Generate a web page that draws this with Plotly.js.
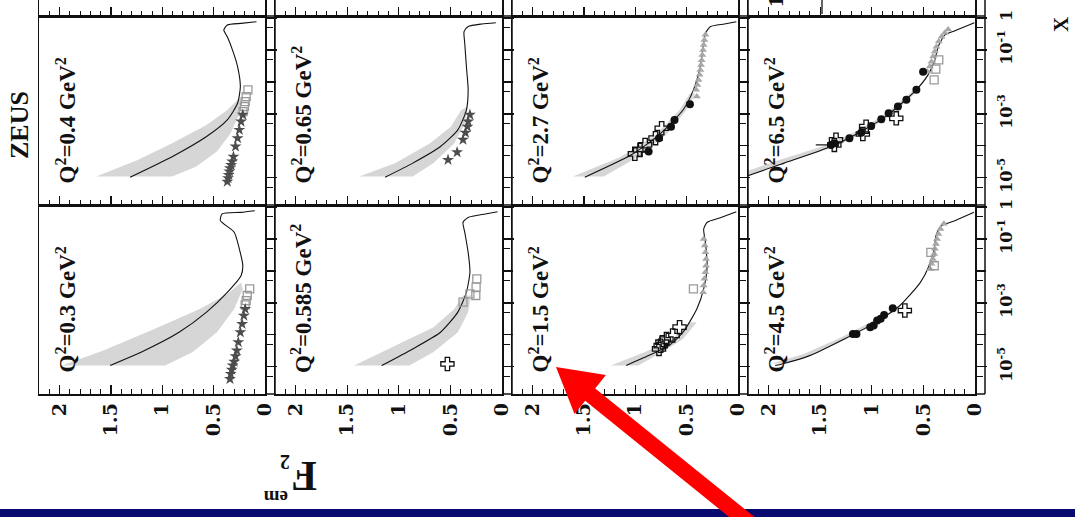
<!DOCTYPE html>
<html>
<head>
<meta charset="utf-8">
<script src="https://cdn.plot.ly/plotly-3.0.1.min.js"></script>
<style>html,body{margin:0;padding:0;background:#fff}#chart{width:1075px;height:517px}</style>
</head>
<body>
<div id="chart"></div>
<script>
// ---------------- DATA (pairs are [F2_em, log10(x)]) ----------------
const Q2_VALUES = ['0.4', '0.65', '2.7', '6.5', '0.3', '0.585', '1.5', '4.5'];
const F2_TICKS = [0, 0.5, 1, 1.5, 2];
const F2_TICK_TEXT = ['0', '0.5', '1', '1.5', '2'];
const X_LABELLED_TICKS = [1, 0.1, 0.001, 1e-5];
const X_LABELLED_TEXT = ['1', '10<sup>-1</sup>', '10<sup>-3</sup>', '10<sup>-5</sup>'];
const X_PLAIN_TICKS = [0.01, 1e-4];
const X_MINOR_TICKS = [0.5, 0.05, 0.005, 5e-4, 5e-5, 5e-6];

// Q2 = 0.4
const CURVE_Q0_4 = [[1.313,-4.98],[0.904,-4.34],[0.569,-3.71],[0.367,-3.19],[0.267,-2.67],[0.240,-2.15],[0.267,-1.52],[0.317,-1.00],[0.367,-0.59],[0.401,-0.38],[0.367,-0.22],[0.233,-0.17],[0.083,-0.12]];
const BAND_HI_Q0_4 = [[1.642,-4.96],[1.239,-4.44],[0.904,-3.92],[0.569,-3.35],[0.367,-2.88],[0.250,-2.51]];
const BAND_LO_Q0_4 = [[0.904,-4.96],[0.669,-4.65],[0.468,-4.18],[0.334,-3.61],[0.250,-2.98],[0.233,-2.57]];
const STARS_Q0_4 = [[0.367,-5.12],[0.360,-5.01],[0.354,-4.91],[0.347,-4.80],[0.341,-4.70],[0.330,-4.60],[0.320,-4.49],[0.307,-4.34],[0.287,-4.02],[0.267,-3.76],[0.250,-3.50],[0.233,-3.24],[0.216,-3.03]];
const SQUARES_Q0_4 = [[0.166,-2.25],[0.183,-2.46],[0.193,-2.62],[0.200,-2.77],[0.213,-2.93]];

// Q2 = 0.65
const CURVE_Q0_65 = [[1.133,-4.98],[0.865,-4.54],[0.596,-4.02],[0.428,-3.50],[0.345,-2.88],[0.328,-2.25],[0.345,-1.52],[0.361,-0.79],[0.368,-0.43],[0.328,-0.27],[0.194,-0.19],[0.060,-0.15]];
const BAND_HI_Q0_65 = [[1.384,-4.96],[1.032,-4.54],[0.697,-3.92],[0.496,-3.40],[0.395,-2.88]];
const BAND_LO_Q0_65 = [[0.865,-4.96],[0.663,-4.54],[0.462,-3.92],[0.361,-3.29],[0.328,-2.77]];
const STARS_Q0_65 = [[0.523,-4.44],[0.435,-4.20],[0.378,-3.81],[0.354,-3.59],[0.335,-3.40],[0.328,-3.24],[0.311,-3.03]];

// Q2 = 2.7
const CURVE_Q2_7 = [[1.491,-4.98],[1.038,-4.28],[0.769,-3.66],[0.535,-2.88],[0.434,-2.25],[0.367,-1.52],[0.334,-0.79],[0.317,-0.48],[0.267,-0.27],[0.132,-0.19],[0.016,-0.12]];
const BAND_HI_Q2_7 = [[1.608,-4.96],[1.138,-4.34],[0.803,-3.66],[0.569,-2.88],[0.468,-2.36]];
const BAND_LO_Q2_7 = [[1.306,-4.96],[0.971,-4.34],[0.702,-3.66],[0.501,-2.88],[0.418,-2.36]];
const CROSSES_Q2_7 = [[1.004,-4.25],[0.954,-4.13],[0.904,-3.97],[0.803,-3.76],[0.743,-3.45]];
const CIRCLES_Q2_7 = [[0.870,-4.18],[0.769,-3.76],[0.652,-3.40],[0.618,-3.19],[0.468,-2.70]];
const TRIANGLES_Q2_7 = [[0.401,-2.46],[0.408,-2.25],[0.395,-2.10],[0.384,-1.94],[0.374,-1.78],[0.367,-1.63],[0.360,-1.47],[0.354,-1.32],[0.347,-1.16],[0.340,-1.00],[0.334,-0.85],[0.327,-0.69],[0.317,-0.53]];

// Q2 = 6.5
const CURVE_Q6_5 = [[2.337,-5.06],[2.207,-4.94],[1.850,-4.54],[1.395,-4.02],[1.103,-3.55],[0.844,-3.03],[0.584,-2.30],[0.455,-1.78],[0.389,-1.31],[0.357,-0.90],[0.292,-0.53],[0.195,-0.40],[0.006,-0.15]];
const BAND_HI_Q6_5 = [[2.40,-5.0],[1.95,-4.5],[1.46,-4.0],[1.15,-3.55],[0.88,-3.03],[0.61,-2.3]];
const BAND_LO_Q6_5 = [[2.28,-5.0],[1.80,-4.5],[1.33,-4.0],[1.06,-3.55],[0.81,-3.03],[0.56,-2.3]];
const CIRCLES_Q6_5 = [[1.395,-3.97],[1.363,-3.92],[1.217,-3.76],[1.103,-3.59],[1.006,-3.38],[0.908,-3.17],[0.837,-2.98],[0.747,-2.77],[0.665,-2.56],[0.568,-2.25],[0.503,-1.68]];
const CROSSES_Q6_5 = [[1.363,-3.97],[1.347,-3.81],[1.087,-3.63],[1.055,-3.40],[0.763,-3.14]];
const CROSS_ERR_Q6_5 = [0.18, 0, 0, 0, 0];
const SQUARES_Q6_5 = [[0.351,-1.31],[0.396,-1.94],[0.380,-1.60]];
const TRIANGLES_Q6_5 = [[0.461,-1.68],[0.438,-1.52],[0.422,-1.37],[0.406,-1.21],[0.389,-1.05],[0.373,-0.90],[0.351,-0.74],[0.324,-0.59],[0.292,-0.46],[0.260,-0.36]];

// Q2 = 0.3
const CURVE_Q0_3 = [[1.507,-4.96],[1.172,-4.49],[0.837,-3.92],[0.569,-3.29],[0.367,-2.67],[0.233,-2.15],[0.216,-1.84],[0.250,-1.31],[0.300,-0.79],[0.434,-0.43],[0.418,-0.22],[0.233,-0.17],[0.099,-0.12]];
const BAND_HI_Q0_3 = [[1.977,-4.96],[1.574,-4.49],[1.071,-3.81],[0.636,-3.19],[0.367,-2.72],[0.233,-2.36]];
const BAND_LO_Q0_3 = [[0.971,-4.96],[0.703,-4.54],[0.468,-3.92],[0.300,-3.19],[0.216,-2.56]];
const STARS_Q0_3 = [[0.341,-5.38],[0.334,-5.22],[0.324,-5.09],[0.314,-4.96],[0.300,-4.84],[0.287,-4.67],[0.274,-4.49],[0.260,-4.23],[0.240,-3.92],[0.223,-3.66],[0.206,-3.40],[0.193,-3.19]];
const SQUARES_Q0_3 = [[0.149,-2.56],[0.173,-2.77],[0.183,-2.93],[0.193,-3.06]];

// Q2 = 0.585
const CURVE_Q0_585 = [[1.166,-4.96],[0.865,-4.44],[0.596,-3.92],[0.428,-3.29],[0.345,-2.67],[0.311,-2.04],[0.328,-1.42],[0.361,-0.79],[0.378,-0.48],[0.328,-0.33],[0.161,-0.22],[0.043,-0.15]];
const BAND_HI_Q0_585 = [[1.434,-4.96],[1.032,-4.34],[0.663,-3.76],[0.462,-3.19],[0.378,-2.77]];
const BAND_LO_Q0_585 = [[0.898,-4.96],[0.663,-4.54],[0.428,-3.92],[0.328,-3.29],[0.301,-2.77]];
const CROSSES_Q0_585 = [[0.529,-4.91]];
const SQUARES_Q0_585 = [[0.244,-2.25],[0.251,-2.51],[0.254,-2.77],[0.311,-2.72],[0.378,-2.98]];

// Q2 = 1.5
const CURVE_Q1_5 = [[1.088,-4.96],[0.870,-4.65],[0.669,-4.33],[0.535,-3.92],[0.401,-3.19],[0.334,-2.56],[0.300,-1.84],[0.317,-1.11],[0.334,-0.69],[0.300,-0.48],[0.166,-0.33],[0.016,-0.15]];
const BAND_HI_Q1_5 = [[1.239,-4.96],[0.904,-4.54],[0.636,-4.13],[0.468,-3.61]];
const BAND_LO_Q1_5 = [[0.971,-4.96],[0.736,-4.54],[0.535,-4.13],[0.401,-3.61]];
const CROSSES_Q1_5 = [[0.769,-4.44],[0.753,-4.34],[0.736,-4.23],[0.696,-4.13],[0.636,-4.02],[0.569,-3.76]];
const SQUARES_Q1_5 = [[0.434,-2.56]];
const TRIANGLES_Q1_5 = [[0.340,-2.67],[0.334,-2.46],[0.327,-2.25],[0.317,-2.04],[0.311,-1.84],[0.311,-1.63],[0.317,-1.42],[0.323,-1.21],[0.334,-1.00]];

// Q2 = 4.5
const CURVE_Q4_5 = [[1.937,-4.96],[1.870,-4.91],[1.602,-4.65],[1.267,-4.13],[0.965,-3.61],[0.730,-3.09],[0.529,-2.36],[0.445,-1.84],[0.395,-1.31],[0.378,-0.90],[0.328,-0.59],[0.194,-0.43],[0.010,-0.17]];
const BAND_HI_Q4_5 = [[1.97,-4.9],[1.66,-4.6],[1.31,-4.1],[1.01,-3.6]];
const BAND_LO_Q4_5 = [[1.87,-4.9],[1.56,-4.6],[1.22,-4.1],[0.93,-3.6]];
const CIRCLES_Q4_5 = [[1.183,-3.97],[1.149,-3.97],[1.016,-3.76],[0.982,-3.71],[0.948,-3.55],[0.914,-3.50],[0.881,-3.38],[0.797,-3.17]];
const CROSSES_Q4_5 = [[0.680,-3.24]];
const SQUARES_Q4_5 = [[0.428,-1.42],[0.395,-1.84]];
const TRIANGLES_Q4_5 = [[0.435,-1.94],[0.422,-1.78],[0.408,-1.63],[0.395,-1.47],[0.389,-1.31],[0.378,-1.16],[0.368,-1.00],[0.354,-0.85],[0.335,-0.69],[0.301,-0.53]];

// ---------------- LAYOUT GEOMETRY ----------------
const W = 1075, H = 517;
const PX = v => v / W;
const PY = v => 1 - v / H;
const COLS = [[39, 265], [275, 502], [512, 738], [748, 975]];
const ROWS = [[16, 205], [205, 394]];
const STRIP = 10;
const X_RANGE = [-5.85, 0.06];
const INK = '#111';

const PANELS = [
  {q: Q2_VALUES[0], row: 0, col: 0, curve: CURVE_Q0_4, hi: BAND_HI_Q0_4, lo: BAND_LO_Q0_4, stars: STARS_Q0_4, squares: SQUARES_Q0_4},
  {q: Q2_VALUES[1], row: 0, col: 1, curve: CURVE_Q0_65, hi: BAND_HI_Q0_65, lo: BAND_LO_Q0_65, stars: STARS_Q0_65},
  {q: Q2_VALUES[2], row: 0, col: 2, curve: CURVE_Q2_7, hi: BAND_HI_Q2_7, lo: BAND_LO_Q2_7, crosses: CROSSES_Q2_7, circles: CIRCLES_Q2_7, triangles: TRIANGLES_Q2_7},
  {q: Q2_VALUES[3], row: 0, col: 3, curve: CURVE_Q6_5, hi: BAND_HI_Q6_5, lo: BAND_LO_Q6_5, circles: CIRCLES_Q6_5, crosses: CROSSES_Q6_5, crossErr: CROSS_ERR_Q6_5, squares: SQUARES_Q6_5, triangles: TRIANGLES_Q6_5},
  {q: Q2_VALUES[4], row: 1, col: 0, curve: CURVE_Q0_3, hi: BAND_HI_Q0_3, lo: BAND_LO_Q0_3, stars: STARS_Q0_3, squares: SQUARES_Q0_3},
  {q: Q2_VALUES[5], row: 1, col: 1, curve: CURVE_Q0_585, hi: BAND_HI_Q0_585, lo: BAND_LO_Q0_585, crosses: CROSSES_Q0_585, squares: SQUARES_Q0_585},
  {q: Q2_VALUES[6], row: 1, col: 2, curve: CURVE_Q1_5, hi: BAND_HI_Q1_5, lo: BAND_LO_Q1_5, crosses: CROSSES_Q1_5, squares: SQUARES_Q1_5, triangles: TRIANGLES_Q1_5},
  {q: Q2_VALUES[7], row: 1, col: 3, curve: CURVE_Q4_5, hi: BAND_HI_Q4_5, lo: BAND_LO_Q4_5, circles: CIRCLES_Q4_5, crosses: CROSSES_Q4_5, squares: SQUARES_Q4_5, triangles: TRIANGLES_Q4_5}
];

const fx = arr => arr.map(p => p[0]);
const fy = arr => arr.map(p => Math.pow(10, p[1]));

const traces = [];
const layout = {
  width: W, height: H,
  margin: {l: 0, r: 0, t: 0, b: 0, pad: 0},
  paper_bgcolor: '#fff', plot_bgcolor: 'rgba(0,0,0,0)',
  showlegend: false, hovermode: false,
  shapes: [], annotations: []
};

function f2Axis(col, yId, showLabels, ghost) {
  return {
    domain: [PX(COLS[col][0]), PX(COLS[col][1])],
    range: [2.2, 0], anchor: yId, side: 'bottom',
    showgrid: false, zeroline: false, fixedrange: true,
    showline: true, mirror: !ghost, linecolor: INK, linewidth: 1.5,
    ticks: 'inside', ticklen: 9, tickwidth: 1.3, tickcolor: INK,
    tickmode: 'array', tickvals: F2_TICKS, ticktext: F2_TICK_TEXT,
    showticklabels: showLabels, tickangle: -90,
    tickfont: {family: 'DejaVu Serif', size: 19, color: INK, weight: 'bold'},
    minor: {dtick: 0.1, tick0: 0, ticks: 'inside', ticklen: 5, tickwidth: 1, tickcolor: INK}
  };
}

PANELS.forEach((p, k) => {
  const n = k + 1;
  const xId = n === 1 ? 'x' : 'x' + n;
  const yId = n === 1 ? 'y' : 'y' + n;
  const rowPx = ROWS[p.row];
  const yDomain = [PY(rowPx[1]), PY(rowPx[0])];
  layout[n === 1 ? 'xaxis' : 'xaxis' + n] = f2Axis(p.col, yId, p.row === 1, false);
  layout[n === 1 ? 'yaxis' : 'yaxis' + n] = {
    domain: yDomain,
    type: 'log', range: X_RANGE, anchor: xId, side: 'right',
    showgrid: false, zeroline: false, fixedrange: true,
    showline: true, mirror: true, linecolor: INK, linewidth: 1.5,
    ticks: 'outside', ticklen: STRIP, tickwidth: 1.3, tickcolor: INK,
    tickmode: 'array', tickvals: X_LABELLED_TICKS, ticktext: X_LABELLED_TEXT,
    showticklabels: p.col === 3, tickangle: -90, ticklabelstandoff: 6,
    tickfont: {family: 'DejaVu Serif', size: 16, color: INK, weight: 'bold'},
    minor: {tickmode: 'array', tickvals: X_MINOR_TICKS, ticks: 'outside', ticklen: 6, tickwidth: 1, tickcolor: INK}
  };
  // unlabelled decade ticks on an overlaid twin axis
  const twin = 20 + k;
  layout['yaxis' + twin] = {
    domain: yDomain, overlaying: yId, anchor: xId,
    type: 'log', range: X_RANGE, side: 'right',
    showgrid: false, zeroline: false, fixedrange: true, showline: false,
    ticks: 'outside', ticklen: STRIP, tickwidth: 1.3, tickcolor: INK,
    tickmode: 'array', tickvals: X_PLAIN_TICKS, showticklabels: false
  };
  traces.push({type: 'scatter', mode: 'markers', x: [], y: [], xaxis: xId, yaxis: 'y' + twin, hoverinfo: 'skip'});

  const base = {xaxis: xId, yaxis: yId, hoverinfo: 'skip'};
  const poly = p.hi.concat(p.lo.slice().reverse());
  traces.push(Object.assign({type: 'scatter', mode: 'lines', x: fx(poly), y: fy(poly),
    fill: 'toself', fillcolor: '#d6d6d6', line: {width: 0, color: 'rgba(0,0,0,0)'}}, base));
  traces.push(Object.assign({type: 'scatter', mode: 'lines', x: fx(p.curve), y: fy(p.curve),
    line: {color: INK, width: 1.1, shape: 'spline', smoothing: 0.6}}, base));
  if (p.triangles) traces.push(Object.assign({type: 'scatter', mode: 'markers', x: fx(p.triangles), y: fy(p.triangles),
    marker: {symbol: 'triangle-up', size: 7, color: '#a8a8a8'}}, base));
  if (p.squares) traces.push(Object.assign({type: 'scatter', mode: 'markers', x: fx(p.squares), y: fy(p.squares),
    marker: {symbol: 'square-open', size: 8, color: '#9a9a9a', line: {width: 1.3, color: '#9a9a9a'}}}, base));
  if (p.stars) traces.push(Object.assign({type: 'scatter', mode: 'markers', x: fx(p.stars), y: fy(p.stars),
    marker: {symbol: 'star', size: 9, color: '#4d4d4d'}}, base));
  if (p.circles) traces.push(Object.assign({type: 'scatter', mode: 'markers', x: fx(p.circles), y: fy(p.circles),
    marker: {symbol: 'circle', size: 8, color: INK}}, base));
  if (p.crosses) {
    const t = Object.assign({type: 'scatter', mode: 'markers', x: fx(p.crosses), y: fy(p.crosses),
      marker: {symbol: 'cross-open', size: 11, color: INK, line: {width: 1.3, color: INK}}}, base);
    if (p.crossErr) t.error_x = {type: 'data', array: p.crossErr, arrayminus: p.crossErr.map(() => 0), color: INK, thickness: 1.2, width: 0};
    traces.push(t);
  }
  layout.annotations.push({
    xref: 'paper', yref: 'paper', x: PX(COLS[p.col][0] + 10), y: PY(rowPx[1] - 19),
    xanchor: 'left', yanchor: 'bottom', textangle: -90, showarrow: false,
    text: '<b>Q<sup>2</sup>=' + p.q + ' GeV<sup>2</sup></b>',
    font: {family: 'Liberation Serif', size: 23, color: INK}
  });
});

// cut-off row of panels above (only their lower frame edge and ticks are visible)
COLS.forEach((c, i) => {
  const n = 9 + i;
  layout['xaxis' + n] = f2Axis(i, 'y' + n, false, true);
  layout['yaxis' + n] = {domain: [PY(ROWS[0][0]), 1], range: [0, 1], anchor: 'x' + n,
    showgrid: false, zeroline: false, showticklabels: false, ticks: '', fixedrange: true,
    showline: true, mirror: true, linecolor: INK, linewidth: 1.5};
  traces.push({type: 'scatter', mode: 'markers', x: [], y: [], xaxis: 'x' + n, yaxis: 'y' + n});
});

// tick strips to the right of each panel
COLS.forEach(c => {
  const xr = c[1] + STRIP;
  layout.shapes.push({type: 'line', xref: 'paper', yref: 'paper', x0: PX(xr), x1: PX(xr), y0: PY(ROWS[1][1]), y1: 1, line: {color: INK, width: 1.5}});
  [ROWS[0][0], ROWS[0][1], ROWS[1][1]].forEach(yy => {
    layout.shapes.push({type: 'line', xref: 'paper', yref: 'paper', x0: PX(c[1]), x1: PX(xr), y0: PY(yy), y1: PY(yy), line: {color: INK, width: 1.5}});
  });
});
// fragment of the cut-off panel above
layout.shapes.push({type: 'line', xref: 'paper', yref: 'paper', x0: PX(822), x1: PX(822), y0: PY(14), y1: 1, line: {color: INK, width: 1.3}});

// blue footer band
layout.shapes.push({type: 'rect', xref: 'paper', yref: 'paper', x0: 0, x1: 1, y0: 0, y1: PY(509), fillcolor: '#0a0a6e', line: {width: 0}});

// red arrow (pixel outline)
const ARROW_PX = [[556, 367], [605.9, 375.1], [595.2, 388.4], [762.9, 523.8], [752.9, 536.2], [585.2, 400.8], [574.5, 414.1]];
layout.shapes.push({type: 'path', xref: 'paper', yref: 'paper',
  path: 'M' + ARROW_PX.map(p => PX(p[0]).toFixed(5) + ',' + PY(p[1]).toFixed(5)).join(' L') + ' Z',
  fillcolor: '#ff0000', line: {width: 0}});

// texts
const serif = 'Liberation Serif';
layout.annotations.push(
  {xref: 'paper', yref: 'paper', x: PX(20), y: PY(125), xanchor: 'center', yanchor: 'middle', textangle: -90, showarrow: false,
   text: '<b>ZEUS</b>', font: {family: serif, size: 26, color: INK}},
  {xref: 'paper', yref: 'paper', x: PX(1061), y: PY(25), xanchor: 'center', yanchor: 'middle', textangle: -90, showarrow: false,
   text: '<b>X</b>', font: {family: serif, size: 21, color: INK}},
  {xref: 'paper', yref: 'paper', x: PX(304), y: PY(476), xanchor: 'center', yanchor: 'middle', textangle: 180, showarrow: false,
   text: '<b>F</b>', font: {family: serif, size: 42, color: INK}, borderpad: 0},
  {xref: 'paper', yref: 'paper', x: PX(285), y: PY(462), xanchor: 'center', yanchor: 'middle', textangle: 180, showarrow: false,
   text: '<b>2</b>', font: {family: serif, size: 20, color: INK}, borderpad: 0},
  {xref: 'paper', yref: 'paper', x: PX(276), y: PY(498), xanchor: 'center', yanchor: 'middle', textangle: 180, showarrow: false,
   text: '<b>em</b>', font: {family: serif, size: 19, color: INK}, borderpad: 0},
  {xref: 'paper', yref: 'paper', x: PX(776), y: PY(2), xanchor: 'center', yanchor: 'middle', textangle: -90, showarrow: false,
   text: '<b>1</b>', font: {family: serif, size: 22, color: INK}}
);

Plotly.newPlot('chart', traces, layout, {staticPlot: true, displayModeBar: false});
</script>
</body>
</html>
